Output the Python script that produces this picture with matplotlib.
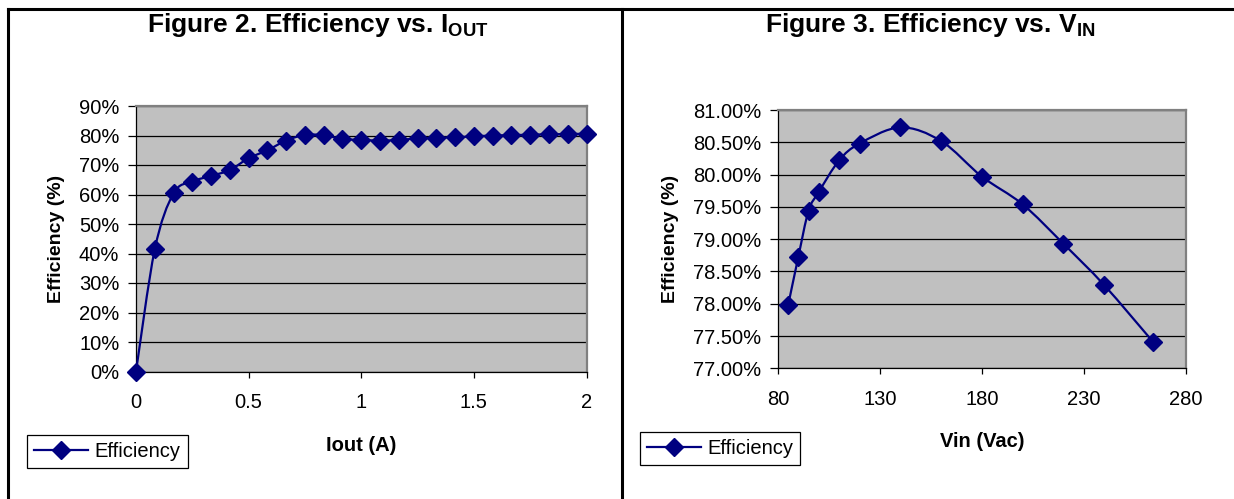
import numpy as np
import matplotlib.pyplot as plt
import matplotlib as mpl
from matplotlib.path import Path
from matplotlib.patches import PathPatch
from matplotlib.lines import Line2D
from matplotlib.ticker import FuncFormatter, MultipleLocator

# Configurations
mpl.rcParams['font.family'] = 'Liberation Sans'
mpl.rcParams['mathtext.fontset'] = 'custom'
mpl.rcParams['mathtext.rm'] = 'Liberation Sans'
mpl.rcParams['mathtext.bf'] = 'Liberation Sans:bold'
mpl.rcParams['font.size'] = 14

###################### measured data ########################
iout = np.arange(25) / 12.0  # A
eff_iout = [0.0, 41.4, 60.4, 64.4, 66.3, 68.3, 72.3, 75.0, 78.3, 80.2,
            80.1, 78.8, 78.5, 78.3, 78.5, 79.0, 79.2, 79.4, 79.7, 80.0,
            80.1, 80.3, 80.4, 80.5, 80.6]  # %

vin = [85, 90, 95, 100, 110, 120, 140, 160, 180, 200, 220, 240, 264]  # Vac
eff_vin = [77.98, 78.73, 79.44, 79.73, 80.22, 80.48, 80.73, 80.52, 79.97,
           79.54, 78.93, 78.29, 77.41]  # %

NAVY = '#000080'
PLOT_BG = '#c0c0c0'


def smooth_path(x, y):
    # Bezier smoothing through every point (Catmull-Rom style control points)
    x = np.asarray(x, float)
    y = np.asarray(y, float)
    n = len(x)
    verts = [(x[0], y[0])]
    codes = [Path.MOVETO]
    for i in range(n - 1):
        i0 = max(i - 1, 0)
        i3 = min(i + 2, n - 1)
        c1 = (x[i] + (x[i+1] - x[i0]) / 6.0, y[i] + (y[i+1] - y[i0]) / 6.0)
        c2 = (x[i+1] - (x[i3] - x[i]) / 6.0, y[i+1] - (y[i3] - y[i]) / 6.0)
        verts += [c1, c2, (x[i+1], y[i+1])]
        codes += [Path.CURVE4] * 3
    return Path(verts, codes)


def draw_panel(ax, x, y, xticks, ylim, ystep, yfmt, xlabel, legend_xy):
    ax.set_facecolor(PLOT_BG)
    ax.set_xlim(xticks[0], xticks[-1])
    ax.set_ylim(*ylim)
    ax.set_xticks(xticks)
    ax.yaxis.set_major_locator(MultipleLocator(ystep))
    ax.yaxis.set_major_formatter(FuncFormatter(lambda v, p: yfmt.format(v)))
    ax.xaxis.set_major_formatter(FuncFormatter(lambda v, p: '{:g}'.format(v)))
    ax.grid(axis='y', color='black', linewidth=0.9)
    ax.set_axisbelow(True)
    for s in ['top', 'right']:
        ax.spines[s].set_color('#808080')
        ax.spines[s].set_linewidth(1.6)
    for s in ['left', 'bottom']:
        ax.spines[s].set_color('black')
        ax.spines[s].set_linewidth(0.9)
    ax.tick_params(direction='out', width=0.9, labelsize=14.5)
    ax.tick_params(axis='y', length=5.5, pad=6.5)
    ax.tick_params(axis='x', length=4.5, pad=11)

    ax.add_patch(PathPatch(smooth_path(x, y), facecolor='none',
                           edgecolor=NAVY, linewidth=1.6, zorder=3,
                           clip_on=False))
    ax.plot(x, y, linestyle='none', marker='D', markersize=9,
            color=NAVY, zorder=4, clip_on=False)

    ax.set_xlabel(xlabel, fontweight='bold', fontsize=14.5, labelpad=17)
    ax.set_ylabel('Efficiency (%)', fontweight='bold', fontsize=14,
                  labelpad=10)

    handle = Line2D([], [], color=NAVY, linewidth=1.6, marker='D',
                    markersize=9)
    fig = ax.figure
    leg = ax.legend([handle], ['Efficiency'], loc='upper left',
                    bbox_to_anchor=legend_xy,
                    bbox_transform=fig.transFigure, frameon=True,
                    fancybox=False, framealpha=1, edgecolor='black',
                    handlelength=2.7, handletextpad=0.3, borderpad=0.35,
                    borderaxespad=0, fontsize=14.5)
    leg.get_frame().set_linewidth(0.9)


fig = plt.figure(figsize=(12.34, 4.99), dpi=100)

ax1 = fig.add_axes([136/1234, 1 - 371.5/499, 450.5/1234, 265.5/499])
draw_panel(ax1, iout, eff_iout, [0, 0.5, 1, 1.5, 2], (0, 90), 10, '{:.0f}%',
           'Iout (A)', (27/1234, 1 - 435/499))

ax2 = fig.add_axes([778/1234, 1 - 368.3/499, 407.6/1234, 258.3/499])
draw_panel(ax2, vin, eff_vin, [80, 130, 180, 230, 280], (77, 81), 0.5,
           '{:.2f}%', 'Vin (Vac)', (639.5/1234, 1 - 431.7/499))

fig.text(318/1234, 1 - 32/499, r'Figure 2. Efficiency vs. I$_{\mathbf{OUT}}$',
         ha='center', va='baseline', fontsize=19, fontweight='bold')
fig.text(930/1234, 1 - 32/499, r'Figure 3. Efficiency vs. V$_{\mathbf{IN}}$',
         ha='center', va='baseline', fontsize=19, fontweight='bold')

# frame lines around the two panels
for xf in [8/1234, 622/1234]:
    fig.add_artist(Line2D([xf, xf], [0, 1 - 8.5/499], color='black',
                          linewidth=2.2, transform=fig.transFigure))
fig.add_artist(Line2D([xf - 614/1234, 1], [1 - 8.5/499, 1 - 8.5/499],
                      color='black', linewidth=2.2,
                      transform=fig.transFigure))

fig.savefig('out.png', dpi=100)
